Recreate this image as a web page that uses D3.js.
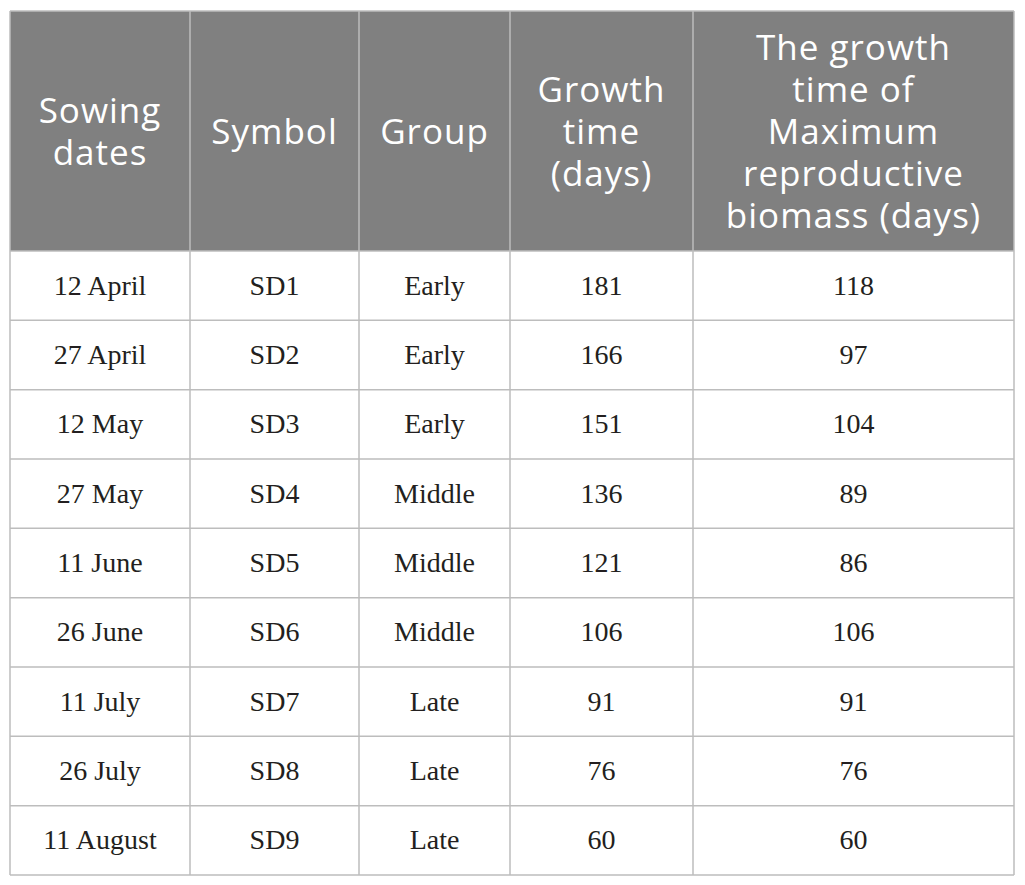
<!DOCTYPE html>
<html>
<head>
<meta charset="utf-8">
<script src="https://cdn.jsdelivr.net/npm/d3@7"></script>
<style>
  body { margin: 0; background: #fff; }
</style>
</head>
<body>
<script>
// table content
var headers = [
  ["Sowing", "dates"],
  ["Symbol"],
  ["Group"],
  ["Growth", "time", "(days)"],
  ["The growth", "time of", "Maximum", "reproductive", "biomass (days)"]
];
var sowingDates = ["12 April", "27 April", "12 May", "27 May", "11 June",
                   "26 June", "11 July", "26 July", "11 August"];
var symbols = ["SD1", "SD2", "SD3", "SD4", "SD5", "SD6", "SD7", "SD8", "SD9"];
var groups = ["Early", "Early", "Early", "Middle", "Middle", "Middle", "Late", "Late", "Late"];
var growthTime = [181, 166, 151, 136, 121, 106, 91, 76, 60];
var maxBiomassTime = [118, 97, 104, 89, 86, 106, 91, 76, 60];

// layout
var colWidths = [180, 169, 151, 183, 321];
var tLeft = 10, tTop = 11, headH = 240, tBottom = 875;
var lineGap = 42;

var rows = symbols.map(function(s, i) {
  return [sowingDates[i], s, groups[i], growthTime[i], maxBiomassTime[i]];
});

var edges = [tLeft];
colWidths.forEach(function(w) { edges.push(edges[edges.length - 1] + w); });
var tRight = edges[edges.length - 1];
function colMid(i) { return edges[i] + colWidths[i] / 2; }

var y = d3.scaleBand().domain(symbols).range([tTop + headH, tBottom]);

var svg = d3.select("body").append("svg")
    .attr("width", 1025)
    .attr("height", 885);

// header background
svg.append("rect")
    .attr("x", tLeft).attr("y", tTop)
    .attr("width", tRight - tLeft)
    .attr("height", headH)
    .attr("fill", "#808080");

// header text
var headMid = tTop + headH / 2;
headers.forEach(function(lines, i) {
  var t = svg.append("text")
      .attr("text-anchor", "middle")
      .attr("font-family", "'Open Sans', sans-serif")
      .attr("font-size", "35px")
      .attr("letter-spacing", "1px")
      .attr("fill", "#fff");
  lines.forEach(function(l, k) {
    t.append("tspan")
      .attr("x", colMid(i))
      .attr("y", headMid + (k - (lines.length - 1) / 2) * lineGap + 13)
      .text(l);
  });
});

// body cells
rows.forEach(function(r, ri) {
  var cy = y(symbols[ri]) + y.bandwidth() / 2;
  r.forEach(function(v, ci) {
    svg.append("text")
      .attr("x", colMid(ci))
      .attr("y", cy + 9)
      .attr("text-anchor", "middle")
      .attr("font-family", "'Liberation Serif', serif")
      .attr("font-size", "28px")
      .attr("fill", "#231f20")
      .text(v);
  });
});

// grid lines
var gridColor = "#bdbdbd";
var hLines = [tTop, tTop + headH].concat(symbols.slice(1).map(function(s) { return y(s); })).concat([tBottom]);
svg.selectAll("line.h")
    .data(hLines)
    .enter().append("line")
    .attr("class", "h")
    .attr("x1", tLeft).attr("x2", tRight)
    .attr("y1", function(d) { return d; })
    .attr("y2", function(d) { return d; })
    .attr("stroke", gridColor)
    .attr("stroke-width", 1.5);

svg.selectAll("line.v")
    .data(edges)
    .enter().append("line")
    .attr("class", "v")
    .attr("x1", function(d) { return d; })
    .attr("x2", function(d) { return d; })
    .attr("y1", tTop).attr("y2", tBottom)
    .attr("stroke", gridColor)
    .attr("stroke-width", 1.5);
</script>
</body>
</html>
